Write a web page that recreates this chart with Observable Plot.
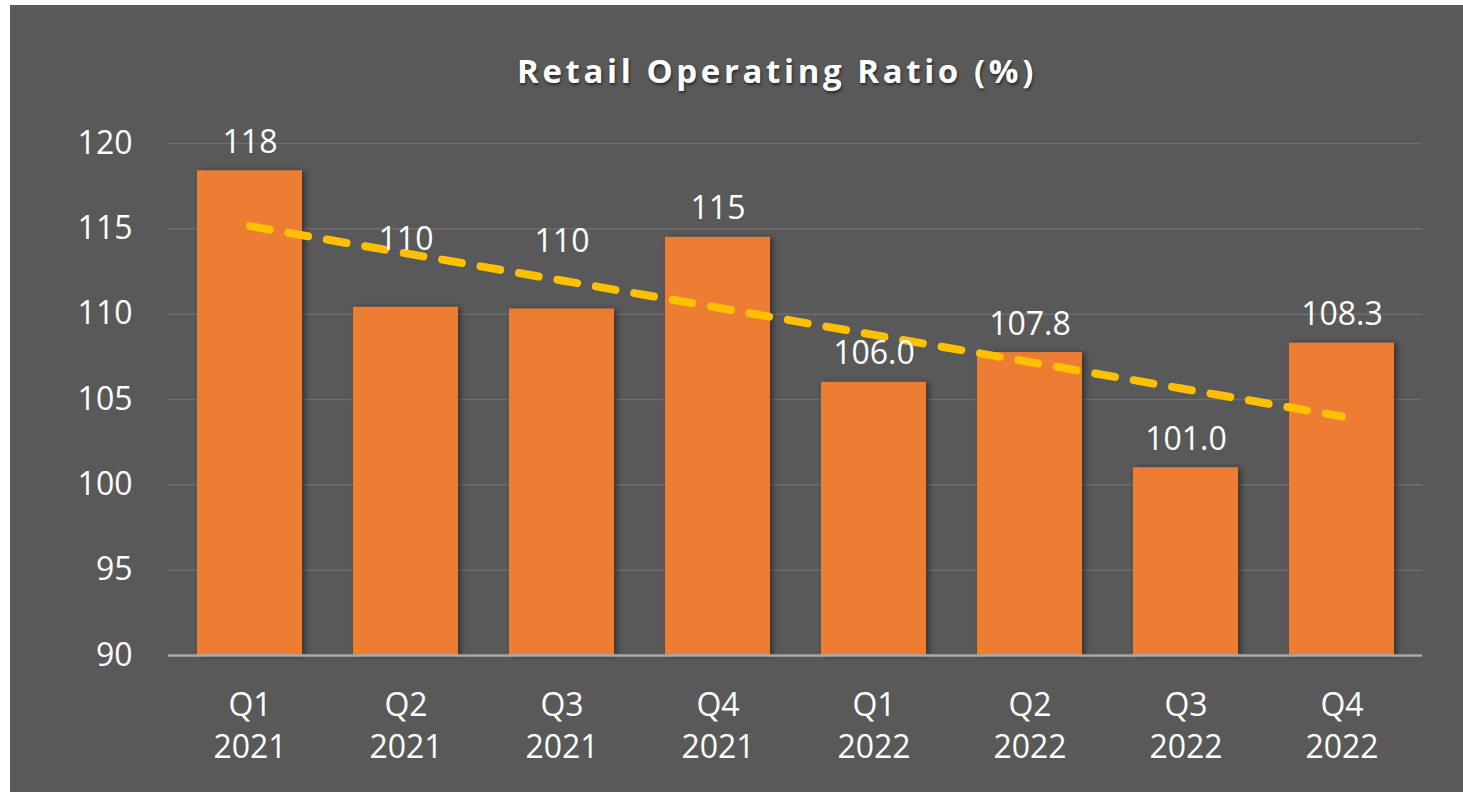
<!DOCTYPE html>
<html>
<head>
<meta charset="utf-8">
<script src="https://cdn.jsdelivr.net/npm/d3@7"></script>
<script src="https://cdn.jsdelivr.net/npm/@observablehq/plot@0.6"></script>
<style>
  html, body { margin: 0; padding: 0; background: #ffffff; }
  #panel {
    position: absolute; left: 10px; top: 5px; width: 1453px; height: 787px;
    background: #595959; overflow: hidden;
  }
  #title {
    margin: 0; padding-top: 45px; height: 42px; line-height: 42px;
    text-align: center; color: #ffffff; font-family: "Open Sans", sans-serif;
    font-weight: 700; font-size: 33px; letter-spacing: 3.6px;
    text-shadow: 1px 2px 3px rgba(0,0,0,0.55);
    padding-left: 81px;
  }
  #chart svg { display: block; }
</style>
</head>
<body>
<div id="panel">
  <div id="title">Retail Operating Ratio (%)</div>
  <div id="chart"></div>
</div>
<script>
const quarters = ["Q1", "Q2", "Q3", "Q4", "Q1", "Q2", "Q3", "Q4"];
const years = ["2021", "2021", "2021", "2021", "2022", "2022", "2022", "2022"];
const ratios = [118.4, 110.4, 110.3, 114.5, 106.0, 107.75, 101.0, 108.3];
const valueLabels = ["118", "110", "110", "115", "106.0", "107.8", "101.0", "108.3"];
const yTicks = [90, 95, 100, 105, 110, 115, 120];
const raisedLabels = [1, 2]; // labels that sit higher above their bars in the original

const keys = quarters.map((q, i) => `${q}\n${years[i]}`);
const data = keys.map((k, i) => ({key: k, value: ratios[i], label: valueLabels[i], i}));

// linear trendline (least squares) through the bar values
const mx = d3.mean(ratios, (_, i) => i);
const my = d3.mean(ratios);
const sxy = d3.sum(ratios, (v, i) => (i - mx) * (v - my));
const sxx = d3.sum(ratios, (_, i) => (i - mx) ** 2);
const slope = sxy / sxx;
const icpt = my - slope * mx;
const trend = keys.map((k, i) => ({key: k, value: icpt + slope * i}));

const font = '"Open Sans", sans-serif';
const chart = Plot.plot({
  width: 1453,
  height: 700,
  marginTop: 51,
  marginBottom: 137,
  marginLeft: 158,
  marginRight: 41,
  style: {background: "transparent", color: "#ffffff", fontFamily: font, fontSize: "32px", overflow: "visible"},
  x: {domain: keys, paddingInner: 0.33, paddingOuter: 0.165, axis: null, label: null},
  y: {domain: [yTicks[0], yTicks[yTicks.length - 1]], axis: null, label: null},
  marks: [
    Plot.ruleY(yTicks.slice(1), {stroke: "#6e6e6e", strokeWidth: 1.5}),
    Plot.barY(data, {x: "key", y1: () => yTicks[0], y2: "value", fill: "#ED7D31"}),
    Plot.ruleY([yTicks[0]], {stroke: "#a9a9a9", strokeWidth: 2.5}),
    Plot.axisY({ticks: yTicks, tickSize: 0, tickPadding: 36, fontSize: 32, fill: "#ffffff", label: null}),
    Plot.axisX({tickSize: 0, tickPadding: 30, fontSize: 32, lineHeight: 1.33, fill: "#ffffff", label: null}),
    Plot.line(trend, {x: "key", y: "value", stroke: "#FFC000", strokeWidth: 8, strokeDasharray: "20,19", strokeLinecap: "round"}),
    Plot.text(data.filter(d => !raisedLabels.includes(d.i)), {x: "key", y: "value", text: "label", dy: -18, lineAnchor: "bottom", fill: "#ffffff", fontSize: 32}),
    Plot.text(data.filter(d => raisedLabels.includes(d.i)), {x: "key", y: "value", text: "label", dy: -57, lineAnchor: "bottom", fill: "#ffffff", fontSize: 32})
  ]
});
document.getElementById("chart").appendChild(chart);

// subtle drop shadow on the bars
const ns = "http://www.w3.org/2000/svg";
const defs = document.createElementNS(ns, "defs");
defs.innerHTML = '<filter id="barShadow" x="-10%" y="-10%" width="130%" height="130%"><feDropShadow dx="3" dy="1" stdDeviation="3" flood-color="#000" flood-opacity="0.45"/></filter>';
chart.insertBefore(defs, chart.firstChild);
const barG = chart.querySelector('g[aria-label="bar"]');
if (barG) barG.setAttribute("filter", "url(#barShadow)");
</script>
</body>
</html>
